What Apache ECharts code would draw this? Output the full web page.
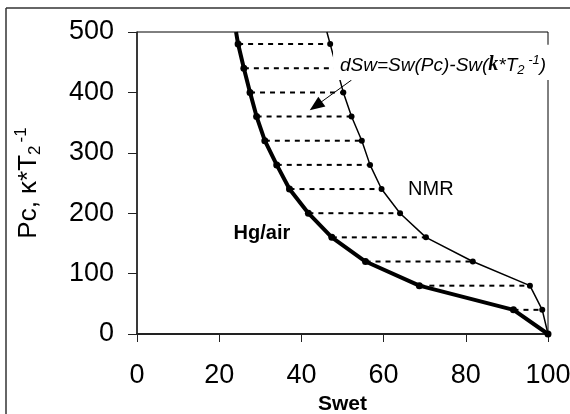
<!DOCTYPE html>
<html>
<head>
<meta charset="utf-8">
<script src="https://cdn.jsdelivr.net/npm/echarts@6/dist/echarts.min.js"></script>
<style>html,body{margin:0;padding:0;background:#fff}#c{width:570px;height:414px}</style>
</head>
<body>
<div id="c"></div>
<script>
// Capillary pressure levels (Pc, κ*T2^-1)
const pcLevels = [480, 440, 400, 360, 320, 280, 240, 200, 160, 120, 80, 40, 0];
// Hg/air water saturation at each level
const swHg = [24.6, 26.0, 27.5, 29.1, 31.1, 34.0, 37.1, 41.7, 47.4, 55.6, 68.7, 91.6, 100];
// NMR-derived water saturation at each level
const swNmr = [47.0, 48.6, 50.2, 52.2, 54.7, 56.7, 59.5, 64.0, 70.3, 81.7, 95.6, 98.6, 100];
// curve continuation to top of axis
const pcTop = 500;
const swHgTop = 24.1;
const swNmrTop = 46.2;
// axis ticks
const xTicks = [0, 20, 40, 60, 80, 100];
const yTicks = [0, 100, 200, 300, 400, 500];

const FONT = 'Liberation Sans, Arial, sans-serif';
const chart = echarts.init(document.getElementById('c'), null, {renderer: 'canvas'});

const hgData = [{value: [swHgTop, pcTop], symbol: 'none'}].concat(pcLevels.map((p, i) => [swHg[i], p]));
const nmrData = [{value: [swNmrTop, pcTop], symbol: 'none'}].concat(pcLevels.map((p, i) => [swNmr[i], p]));

const dashSeries = [];
pcLevels.forEach((p, i) => {
  if (p === 0) return;
  dashSeries.push({
    type: 'line', data: [[swHg[i], p], [swNmr[i], p]], symbol: 'none', silent: true,
    lineStyle: {color: '#000', width: 2, type: [5, 5]}, z: 1, animation: false
  });
});

chart.setOption({
  animation: false,
  grid: {left: 137, right: 22, top: 32, bottom: 80, show: true, borderColor: '#000', borderWidth: 1,
         backgroundColor: 'transparent', containLabel: false, outerBoundsMode: 'none'},
  xAxis: {
    type: 'value', min: xTicks[0], max: xTicks[xTicks.length - 1], interval: 20,
    name: 'Swet', nameLocation: 'middle', nameGap: 45,
    nameTextStyle: {fontFamily: FONT, fontSize: 21, fontWeight: 'bold', color: '#000'},
    axisLine: {show: true, onZero: false, lineStyle: {color: '#222', width: 2}},
    axisTick: {show: true, inside: false, length: 8, lineStyle: {color: '#222', width: 1}},
    axisLabel: {fontFamily: FONT, fontSize: 27, color: '#000', margin: 28},
    splitLine: {show: false}
  },
  yAxis: {
    type: 'value', min: yTicks[0], max: yTicks[yTicks.length - 1], interval: 100,
    name: '{a|Pc, κ*T}{sub|2}{sup|-1}', nameLocation: 'middle', nameGap: 93, nameRotate: 90,
    nameTextStyle: {
      fontFamily: FONT, fontSize: 26, color: '#000',
      rich: {
        a: {fontFamily: FONT, fontSize: 26, color: '#000'},
        sub: {fontFamily: FONT, fontSize: 17, color: '#000', padding: [14, 0, 0, 0]},
        sup: {fontFamily: FONT, fontSize: 17, color: '#000', padding: [0, 0, 14, 3]}
      }
    },
    axisLine: {show: true, onZero: false, lineStyle: {color: '#222', width: 1.5}},
    axisTick: {show: true, inside: false, length: 9, lineStyle: {color: '#222', width: 1}},
    axisLabel: {fontFamily: FONT, fontSize: 27, color: '#000', margin: 23},
    splitLine: {show: false}
  },
  series: dashSeries.concat([
    {
      name: 'NMR', type: 'line', data: nmrData, symbol: 'circle', symbolSize: 6,
      lineStyle: {color: '#000', width: 1.5}, itemStyle: {color: '#000'}, z: 3
    },
    {
      name: 'Hg/air', type: 'line', data: hgData, symbol: 'circle', symbolSize: 7,
      lineStyle: {color: '#000', width: 4}, itemStyle: {color: '#000'}, z: 4
    },
    {
      name: 'arrow', type: 'line', data: [], z: 12,
      markLine: {
        silent: true, symbol: ['none', 'triangle'], symbolSize: [12, 15], animation: false,
        label: {show: false},
        lineStyle: {color: '#000', width: 1, type: 'solid'},
        data: [[{coord: [52.2, 420.5]}, {coord: [43.5, 377.6]}]]
      }
    }
  ])
});

function px(pt) { return chart.convertToPixel({gridIndex: 0}, pt); }
const boxTL = px([47.7, 479]);
const boxBR = px([102, 420.5]);
const annPos = px([49.4, 445]);
const hgPos = px([30.4, 167]);
const nmrPos = px([71.5, 240]);

chart.setOption({
  graphic: [
    {type: 'line', shape: {x1: 6, y1: 8, x2: 570, y2: 8}, style: {stroke: '#333', lineWidth: 1.5}, z: 50},
    {type: 'line', shape: {x1: 6, y1: 8, x2: 6, y2: 414}, style: {stroke: '#333', lineWidth: 1.5}, z: 50},
    {type: 'rect', shape: {x: boxTL[0], y: boxTL[1], width: boxBR[0] - boxTL[0], height: boxBR[1] - boxTL[1]},
     style: {fill: '#fff'}, z: 100},
    {type: 'text', x: annPos[0], y: annPos[1], z: 101,
     style: {
       text: '{i|dSw=Sw(Pc)-Sw(}{k|k}{i|*T}{sub|2}{sup| -1}{i|)}',
       verticalAlign: 'middle', align: 'left',
       rich: {
         i: {fontFamily: FONT, fontStyle: 'italic', fontSize: 19, fill: '#000'},
         k: {fontFamily: 'Liberation Serif, Times New Roman, serif', fontStyle: 'italic', fontWeight: 'bold', fontSize: 20, fill: '#000'},
         sub: {fontFamily: FONT, fontStyle: 'italic', fontSize: 13, fill: '#000', padding: [10, 0, 0, 0]},
         sup: {fontFamily: FONT, fontStyle: 'italic', fontSize: 13, fill: '#000', padding: [0, 0, 10, 0]}
       }
     }},
    {type: 'text', x: hgPos[0], y: hgPos[1], z: 60,
     style: {text: 'Hg/air', font: 'bold 20px ' + FONT, fill: '#000', align: 'center', verticalAlign: 'middle'}},
    {type: 'text', x: nmrPos[0], y: nmrPos[1], z: 60,
     style: {text: 'NMR', font: '20px ' + FONT, fill: '#000', align: 'center', verticalAlign: 'middle'}}
  ]
});
</script>
</body>
</html>
